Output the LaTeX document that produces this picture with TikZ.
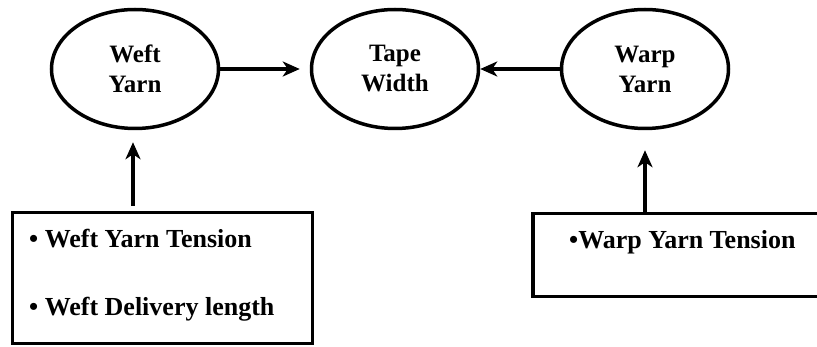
\documentclass[tikz,border=0pt]{standalone}
\usepackage{fontspec}
\setmainfont{Liberation Serif}
\usetikzlibrary{shapes.geometric,arrows.meta}
\begin{document}
\begin{tikzpicture}[x=1pt,y=-1pt,
  ell/.style={draw,line width=3.5pt,ellipse,minimum width=167pt,minimum height=119pt,inner sep=0pt,align=center,font=\fontsize{25}{30}\selectfont\bfseries},
  boxnode/.style={draw,line width=3.5pt,rectangle,inner sep=0pt},
  txt/.style={inner sep=0pt,anchor=base west,font=\fontsize{26}{30}\selectfont\bfseries},
  arr/.style={line width=4pt,-{Stealth[length=17pt,width=15pt,inset=5pt]}}]
\useasboundingbox (0,0) rectangle (817,347);
\node[ell] (wefty) at (135,69) {Weft\\Yarn};
\node[ell] (tape) at (395,69) {Tape\\Width};
\node[ell] (warpy) at (645,69) {Warp\\Yarn};
\node[boxnode,minimum width=300pt,minimum height=131pt] (leftbox) at (162.5,278) {};
\node[boxnode,minimum width=297pt,minimum height=83pt] (rightbox) at (681.5,255) {};
\node[txt] (t1) at (29,248) {\textbullet\ Weft Yarn Tension};
\node[txt] (t2) at (29,316) {\textbullet\ Weft Delivery length};
\node[txt] (t3) at (569,249) {\textbullet Warp Yarn Tension};
\draw[arr,shorten >=10pt] (wefty) -- (tape);
\draw[arr] (warpy) -- (tape);
\draw[arr,shorten <=5pt,shorten >=12pt] (leftbox.north -| 133,0) -- (wefty.south -| 133,0);
\draw[arr,shorten >=20pt] (rightbox.north -| warpy.south) -- (warpy.south);
\end{tikzpicture}
\end{document}
